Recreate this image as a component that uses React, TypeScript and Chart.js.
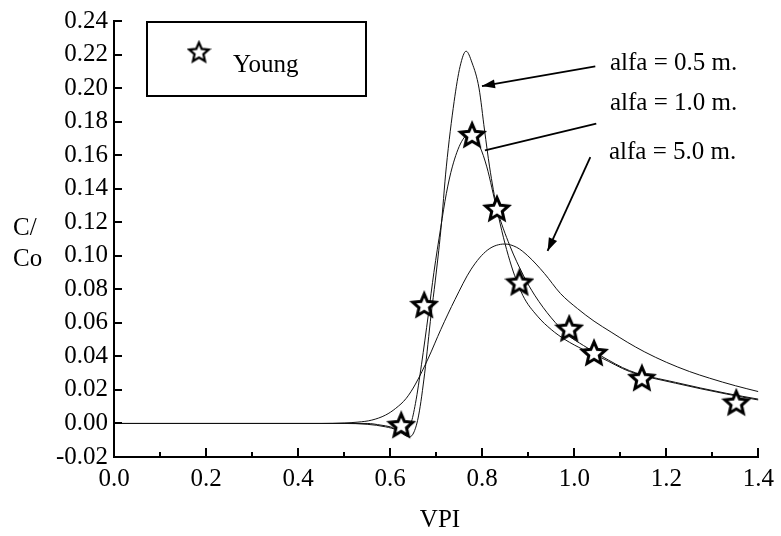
import React, { useEffect, useRef } from 'react';
import { Chart, registerables } from 'chart.js';

Chart.register(...registerables);

// ---- Data ----
const alfa05X = [0, 0.5, 0.55, 0.59, 0.615, 0.632, 0.642, 0.652, 0.662, 0.675, 0.689, 0.698, 0.71, 0.722, 0.739, 0.752, 0.765, 0.778, 0.793, 0.805, 0.816, 0.832, 0.86, 0.888, 0.92, 0.95, 0.98, 1.02, 1.06, 1.12, 1.22, 1.33, 1.4];
const alfa05Y = [0, 0, -0.0005, -0.002, -0.004, -0.007, -0.008, -0.005, 0.005, 0.03, 0.065, 0.085, 0.115, 0.153, 0.192, 0.213, 0.222, 0.215, 0.2, 0.175, 0.153, 0.128, 0.097, 0.0765, 0.064, 0.056, 0.05, 0.044, 0.039, 0.031, 0.024, 0.0176, 0.014];

const alfa10X = [0, 0.5, 0.55, 0.58, 0.6, 0.62, 0.632, 0.645, 0.655, 0.668, 0.683, 0.695, 0.71, 0.722, 0.735, 0.755, 0.775, 0.795, 0.81, 0.832, 0.86, 0.89, 0.914, 0.95, 0.985, 1.02, 1.06, 1.12, 1.22, 1.33, 1.4];
const alfa10Y = [0, 0, 0, -0.001, -0.002, -0.004, -0.004, 0.0, 0.012, 0.035, 0.065, 0.09, 0.117, 0.137, 0.153, 0.168, 0.173, 0.165, 0.153, 0.128, 0.106, 0.088, 0.0765, 0.063, 0.053, 0.0465, 0.04, 0.0315, 0.0245, 0.018, 0.0145];

const alfa50X = [0, 0.45, 0.5, 0.53, 0.56, 0.59, 0.612, 0.635, 0.655, 0.683, 0.71, 0.741, 0.776, 0.812, 0.849, 0.875, 0.899, 0.935, 0.97, 1.007, 1.043, 1.08, 1.115, 1.152, 1.2, 1.25, 1.294, 1.35, 1.4];
const alfa50Y = [0, 0, 0.0003, 0.0008, 0.002, 0.005, 0.009, 0.015, 0.0235, 0.039, 0.056, 0.074, 0.092, 0.1035, 0.107, 0.105, 0.1, 0.0895, 0.0775, 0.0685, 0.061, 0.0545, 0.0485, 0.0428, 0.0365, 0.031, 0.027, 0.0225, 0.019];

const youngX = [0.624, 0.674, 0.778, 0.832, 0.881, 0.989, 1.043, 1.147, 1.352];
const youngY = [-0.001, 0.0706, 0.172, 0.128, 0.084, 0.0565, 0.042, 0.027, 0.0124];

const legendLabel = 'Young';
const curveLabels = ['alfa = 0.5 m.', 'alfa = 1.0 m.', 'alfa = 5.0 m.'];
const yTitleLines = ['C/', 'Co'];
const xTitle = 'VPI';

const FONT = '"Liberation Serif", "Times New Roman", serif';

function makeStar(size: number, lw: number, inner: number) {
  const c = document.createElement('canvas');
  c.width = size;
  c.height = size;
  const ctx = c.getContext('2d')!;
  const cx = size / 2;
  const cy = size / 2 + 0.8;
  const R = size / 2 - lw;
  const r = R * inner;
  ctx.beginPath();
  for (let i = 0; i < 10; i++) {
    const ang = -Math.PI / 2 + (i * Math.PI) / 5;
    const rad = i % 2 === 0 ? R : r;
    const px = cx + rad * Math.cos(ang);
    const py = cy + rad * Math.sin(ang);
    if (i === 0) ctx.moveTo(px, py);
    else ctx.lineTo(px, py);
  }
  ctx.closePath();
  ctx.fillStyle = '#fff';
  ctx.fill();
  ctx.lineWidth = lw;
  ctx.lineJoin = 'miter';
  ctx.strokeStyle = '#000';
  ctx.stroke();
  return c;
}

function toPts(xs: number[], ys: number[]) {
  return xs.map((x, i) => ({ x, y: ys[i] }));
}

export default function App() {
  const ref = useRef<HTMLCanvasElement | null>(null);

  useEffect(() => {
    const canvas = ref.current;
    if (!canvas) return;
    const star = makeStar(30, 3, 0.46);
    const legendStar = makeStar(25, 2.3, 0.46);

    const arrow = (ctx: CanvasRenderingContext2D, x1: number, y1: number, x2: number, y2: number, head: boolean) => {
      ctx.beginPath();
      ctx.moveTo(x1, y1);
      ctx.lineTo(x2, y2);
      ctx.stroke();
      if (head) {
        const ang = Math.atan2(y2 - y1, x2 - x1);
        const L = 13;
        const W = 4.5;
        const bx = x2 - L * Math.cos(ang);
        const by = y2 - L * Math.sin(ang);
        ctx.beginPath();
        ctx.moveTo(x2, y2);
        ctx.lineTo(bx + W * Math.sin(ang), by - W * Math.cos(ang));
        ctx.lineTo(bx - W * Math.sin(ang), by + W * Math.cos(ang));
        ctx.closePath();
        ctx.fill();
      }
    };

    const overlay = {
      id: 'overlay',
      afterDraw(chart: any) {
        const { ctx, chartArea } = chart;
        const xs = chart.scales.x;
        const ys = chart.scales.y;
        ctx.save();
        ctx.strokeStyle = '#000';
        ctx.fillStyle = '#000';
        ctx.lineWidth = 2;
        ys.ticks.forEach((t: any) => {
          const py = Math.round(ys.getPixelForValue(t.value));
          ctx.beginPath();
          ctx.moveTo(chartArea.left, py);
          ctx.lineTo(chartArea.left + 8, py);
          ctx.stroke();
        });
        xs.ticks.forEach((t: any, i: number) => {
          const px = Math.round(xs.getPixelForValue(t.value));
          ctx.beginPath();
          ctx.moveTo(px, chartArea.bottom);
          ctx.lineTo(px, chartArea.bottom - 9);
          ctx.stroke();
          if (i < xs.ticks.length - 1) {
            const mid = (t.value + xs.ticks[i + 1].value) / 2;
            const pm = Math.round(xs.getPixelForValue(mid));
            ctx.beginPath();
            ctx.moveTo(pm, chartArea.bottom);
            ctx.lineTo(pm, chartArea.bottom - 5);
            ctx.stroke();
          }
        });

        // legend box
        ctx.lineWidth = 2;
        ctx.strokeRect(147, 22, 219, 74);
        ctx.drawImage(legendStar, 199 - 12.5, 52 - 12.5);
        ctx.font = `25px ${FONT}`;
        ctx.textBaseline = 'alphabetic';
        ctx.textAlign = 'left';
        ctx.fillText(legendLabel, 233, 72);

        // curve labels
        ctx.fillText(curveLabels[0], 610, 70);
        ctx.fillText(curveLabels[1], 610, 110);
        ctx.fillText(curveLabels[2], 609, 159);

        // arrows (in data coords)
        ctx.lineWidth = 1.8;
        const P = (vx: number, vy: number) => [xs.getPixelForValue(vx), ys.getPixelForValue(vy)];
        let a = P(1.0457, 0.2129), b = P(0.7994, 0.2012);
        arrow(ctx, a[0], a[1], b[0], b[1], true);
        a = P(1.0478, 0.1788); b = P(0.8059, 0.1629);
        arrow(ctx, a[0], a[1], b[0], b[1], false);
        a = P(1.0349, 0.1588); b = P(0.942, 0.1029);
        arrow(ctx, a[0], a[1], b[0], b[1], true);

        // axis titles
        ctx.font = `25px ${FONT}`;
        ctx.fillText(yTitleLines[0], 13, 235);
        ctx.fillText(yTitleLines[1], 13, 266);
        ctx.textAlign = 'center';
        ctx.fillText(xTitle, 440, 527);
        ctx.restore();
      },
    };

    const lineDs = (xs: number[], yv: number[]) => ({
      data: toPts(xs, yv),
      showLine: true,
      borderColor: '#111',
      borderWidth: 1,
      pointRadius: 0,
      fill: false,
      cubicInterpolationMode: 'monotone' as const,
      order: 2,
    });

    const chart = new Chart(canvas, {
      type: 'scatter',
      data: {
        datasets: [
          {
            data: toPts(youngX, youngY),
            pointStyle: star as any,
            pointRadius: 12,
            showLine: false,
            order: 0,
          } as any,
          lineDs(alfa05X, alfa05Y),
          lineDs(alfa10X, alfa10Y),
          lineDs(alfa50X, alfa50Y),
        ],
      },
      options: {
        responsive: false,
        animation: false,
        events: [],
        layout: { padding: { top: 16, right: 19, left: 0, bottom: 0 } },
        plugins: {
          legend: { display: false },
          tooltip: { enabled: false },
          title: { display: false },
        },
        scales: {
          x: {
            type: 'linear',
            min: 0,
            max: 1.4,
            afterFit: (s: any) => { s.height = 79; },
            grid: { display: false, drawTicks: false },
            border: { display: true, color: '#000', width: 2 },
            ticks: {
              stepSize: 0.2,
              autoSkip: false,
              maxRotation: 0,
              padding: 7,
              color: '#000',
              font: { family: FONT, size: 25 },
              callback: (v: any) => Number(v).toFixed(1),
            },
          },
          y: {
            type: 'linear',
            min: -0.02,
            max: 0.24,
            afterFit: (s: any) => { s.width = 114; },
            grid: { display: false, drawTicks: false },
            border: { display: true, color: '#000', width: 2 },
            ticks: {
              stepSize: 0.02,
              autoSkip: false,
              padding: 6,
              color: '#000',
              font: { family: FONT, size: 25 },
              callback: (v: any) => Number(v).toFixed(2),
            },
          },
        },
      },
      plugins: [overlay],
    } as any);

    return () => chart.destroy();
  }, []);

  return (
    <div style={{ position: 'fixed', left: 0, top: 0, width: 781, height: 536, background: '#fff' }}>
      <canvas ref={ref} width={781} height={536} style={{ display: 'block' }} />
    </div>
  );
}
